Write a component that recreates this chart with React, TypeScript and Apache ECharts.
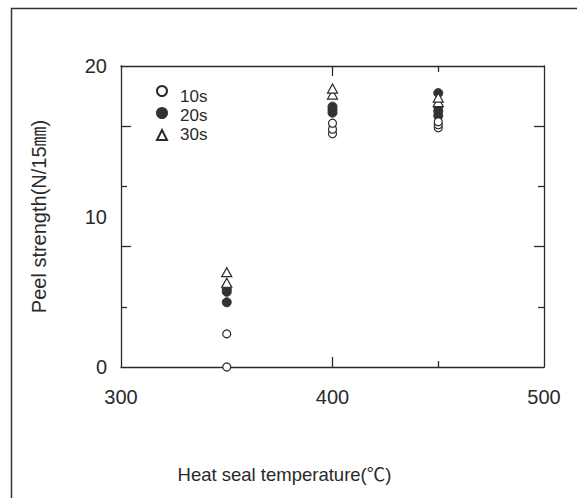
import React, { useEffect, useRef } from "react";
import * as echarts from "echarts";

// Heat seal temperature (°C) vs peel strength (N/15mm)
const series10s: number[][] = [
  [350, 0], [350, 2.2],
  [400, 15.5], [400, 15.8], [400, 16.2],
  [450, 15.9], [450, 16.1], [450, 16.3],
];
const series20s: number[][] = [
  [350, 4.3], [350, 5.0], [350, 5.2],
  [400, 16.9], [400, 17.1], [400, 17.3],
  [450, 16.7], [450, 17.0], [450, 17.3], [450, 18.2],
];
const series30s: number[][] = [
  [350, 5.6], [350, 6.3],
  [400, 18.1], [400, 18.5],
  [450, 17.6], [450, 17.9],
];
const legendNames = ["10s", "20s", "30s"];
const xLongTicks = [400];
const xShortTicks = [450];
const yLongTicks = [8, 16];
const yShortTicks = [4, 12];

const FONT = "'Liberation Sans', 'Noto Sans CJK KR', Arial, sans-serif";
const INK = "#2a2a2a";

export default function App() {
  const ref = useRef<HTMLDivElement>(null);
  useEffect(() => {
    document.body.style.margin = "0";
    const chart = echarts.init(ref.current!, null, { renderer: "svg" });
    const lineStyle = { color: INK, width: 1.3 };
    const baseX = { type: "value", min: 300, max: 500, interval: 100, splitLine: { show: false } };
    const baseY = { type: "value", min: 0, max: 20, interval: 10, splitLine: { show: false } };
    const tickAxisX = (pos: string, vals: number[], len: number, line: boolean) => ({
      ...baseX,
      position: pos,
      axisLine: { show: line, onZero: false, lineStyle },
      axisLabel: { show: false },
      axisTick: { show: true, inside: true, length: len, customValues: vals, lineStyle },
    });
    const tickAxisY = (pos: string, vals: number[], len: number, line: boolean) => ({
      ...baseY,
      position: pos,
      axisLine: { show: line, onZero: false, lineStyle },
      axisLabel: { show: false },
      axisTick: { show: true, inside: true, length: len, customValues: vals, lineStyle },
    });
    chart.setOption({
      animation: false,
      backgroundColor: "#fff",
      textStyle: { fontFamily: FONT },
      grid: { left: 121, top: 66, right: 33, bottom: 131 },
      graphic: [
        {
          type: "rect",
          shape: { x: 11.5, y: 8.5, width: 700, height: 700 },
          style: { fill: "none", stroke: "#333", lineWidth: 1.5 },
          silent: true,
        },
      ],
      legend: [
        {
          // markers
          left: 156,
          top: 85,
          padding: 0,
          orient: "vertical",
          selectedMode: false,
          itemWidth: 10,
          itemHeight: 10,
          itemGap: 10,
          data: legendNames,
          formatter: () => "",
          textStyle: { fontSize: 1 },
        },
        {
          // labels
          left: 175,
          top: 88,
          padding: 0,
          orient: "vertical",
          selectedMode: false,
          icon: "none",
          itemWidth: 0,
          itemHeight: 10,
          itemGap: 2,
          data: legendNames,
          textStyle: { fontFamily: FONT, fontSize: 17, color: INK },
        },
      ],
      xAxis: [
        {
          ...baseX,
          position: "bottom",
          name: "Heat seal temperature(℃)",
          nameLocation: "middle",
          nameGap: 98,
          nameTextStyle: { fontFamily: FONT, fontSize: 18.5, color: INK, padding: [0, 96, 0, 0] },
          axisLine: { show: true, onZero: false, lineStyle },
          axisTick: { show: false },
          axisLabel: { fontFamily: FONT, fontSize: 20, color: INK, margin: 20 },
        },
        tickAxisX("bottom", xLongTicks, 10, false),
        tickAxisX("bottom", xShortTicks, 6, false),
        tickAxisX("top", xLongTicks, 10, true),
        tickAxisX("top", xShortTicks, 6, false),
      ],
      yAxis: [
        {
          ...baseY,
          position: "left",
          name: "Peel strength(N/15㎜)",
          nameLocation: "middle",
          nameGap: 72,
          nameRotate: 90,
          nameTextStyle: { fontFamily: FONT, fontSize: 20, color: INK },
          axisLine: { show: true, onZero: false, lineStyle },
          axisTick: { show: false },
          axisLabel: { fontFamily: FONT, fontSize: 20, color: INK, margin: 14 },
        },
        tickAxisY("left", yLongTicks, 10, false),
        tickAxisY("left", yShortTicks, 6, false),
        tickAxisY("right", yLongTicks, 10, true),
        tickAxisY("right", yShortTicks, 6, false),
      ],
      series: [
        {
          name: "10s",
          type: "scatter",
          data: series10s,
          symbol: "circle",
          symbolSize: 8,
          z: 3,
          itemStyle: { color: "#fff", borderColor: INK, borderWidth: 1.2, opacity: 1 },
        },
        {
          name: "20s",
          type: "scatter",
          data: series20s,
          symbol: "circle",
          symbolSize: 9,
          z: 2,
          itemStyle: { color: "#333", borderColor: "#333", borderWidth: 1, opacity: 1 },
        },
        {
          name: "30s",
          type: "scatter",
          data: series30s,
          symbol: "triangle",
          symbolSize: [10, 9],
          z: 4,
          itemStyle: { color: "#fff", borderColor: INK, borderWidth: 1.2, opacity: 1 },
        },
      ],
    });
    return () => chart.dispose();
  }, []);
  return <div ref={ref} style={{ width: 577, height: 498 }} />;
}
